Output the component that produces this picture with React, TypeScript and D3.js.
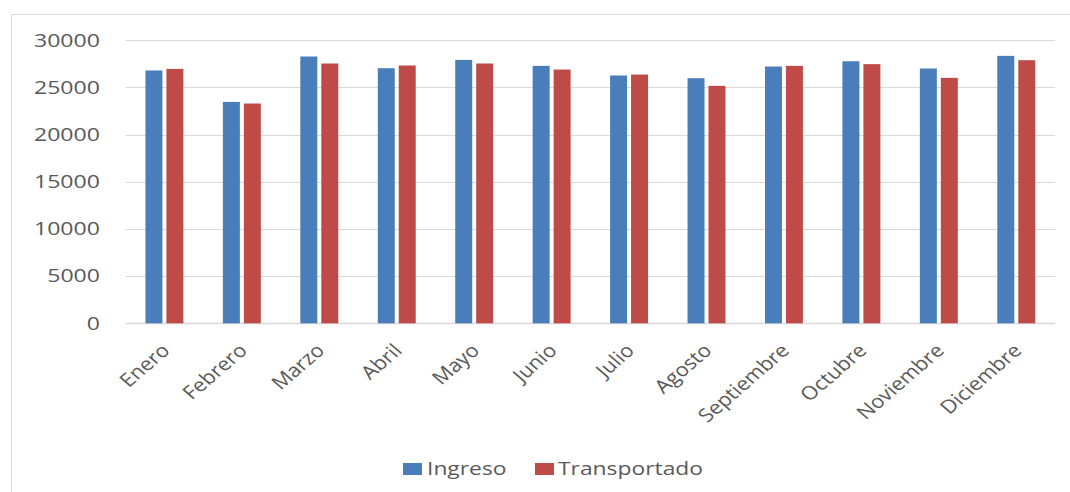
import React from 'react'
import * as d3 from 'd3'

const months = ['Enero', 'Febrero', 'Marzo', 'Abril', 'Mayo', 'Junio', 'Julio', 'Agosto', 'Septiembre', 'Octubre', 'Noviembre', 'Diciembre']
const ingreso = [26800, 23470, 28280, 27040, 27920, 27290, 26270, 25980, 27220, 27780, 27010, 28350]
const transportado = [26970, 23300, 27540, 27330, 27540, 26900, 26370, 25170, 27290, 27470, 26020, 27890]
const seriesNames = ['Ingreso', 'Transportado']
const yTicks = [0, 5000, 10000, 15000, 20000, 25000, 30000]

const W = 1070
const H = 492
const colors = ['#4a7ebb', '#be4b48']
const FONT = '"Open Sans", "DejaVu Sans", sans-serif'
const SX = 1.32 // the picture is stretched sideways
const SX_ROT = 1.16

export default function App() {
  const x = d3.scaleBand<string>()
    .domain(months)
    .range([125.7, 1055])
    .paddingInner(0.51)
    .paddingOuter(0.255)

  const x1 = d3.scaleBand<string>()
    .domain(seriesNames)
    .range([0, x.bandwidth()])
    .paddingInner(0.19)

  const y = d3.scaleLinear().domain([0, 30000]).range([323.3, 40.3])

  const values = [ingreso, transportado]

  return (
    <svg width={W} height={H} style={{ position: 'absolute', left: 0, top: 0, background: '#fff' }}>
      {/* chart frame */}
      <rect x={11.5} y={14.5} width={W} height={H} fill="none" stroke="#d9d9d9" />

      {/* gridlines */}
      {yTicks.map(t => (
        <line key={t} x1={125.7} x2={1055} y1={Math.round(y(t)) + 0.5} y2={Math.round(y(t)) + 0.5}
          stroke="#d9d9d9" strokeWidth={t === 0 ? 1.5 : 1} />
      ))}

      {/* y labels */}
      {yTicks.map(t => (
        <text key={t} transform={`translate(100, ${y(t)}) scale(${SX}, 1)`} textAnchor="end" dy="0.36em"
          fontFamily={FONT} fontSize={17.5} fill="#595959">{t}</text>
      ))}

      {/* bars */}
      {months.map((m, i) => (
        <g key={m} transform={`translate(${x(m)}, 0)`}>
          {seriesNames.map((s, j) => (
            <rect key={s} x={x1(s)} y={y(values[j][i])} width={x1.bandwidth()}
              height={y(0) - y(values[j][i])} fill={colors[j]} />
          ))}
        </g>
      ))}

      {/* x labels */}
      {months.map(m => {
        const cx = (x(m) ?? 0) + x.bandwidth() / 2
        return (
          <text key={m} transform={`translate(${cx + 1}, ${347}) scale(${SX_ROT}, 1) rotate(-45)`}
            textAnchor="end" dy="0.36em" fontFamily={FONT} fontSize={18.8} fill="#595959">{m}</text>
        )
      })}

      {/* legend */}
      <g>
        <rect x={403} y={463} width={19} height={12} fill={colors[0]} />
        <text transform={`translate(427, 475) scale(${SX}, 1)`} fontFamily={FONT} fontSize={17.3} fill="#595959">Ingreso</text>
        <rect x={535} y={463} width={19} height={12} fill={colors[1]} />
        <text transform={`translate(558, 475) scale(${SX}, 1)`} fontFamily={FONT} fontSize={17.3} fill="#595959">Transportado</text>
      </g>
    </svg>
  )
}
